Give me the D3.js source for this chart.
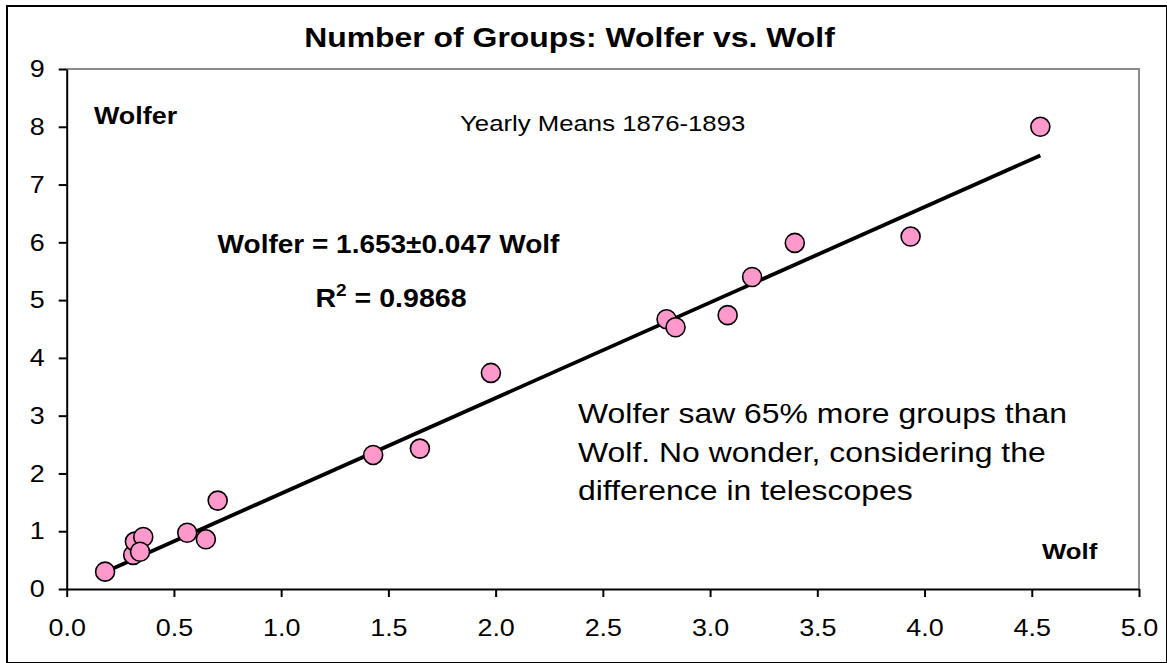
<!DOCTYPE html>
<html>
<head>
<meta charset="utf-8">
<script src="https://cdn.jsdelivr.net/npm/d3@7"></script>
<style>
  html, body { margin: 0; padding: 0; background: #fff; }
  svg { display: block; }
  text { font-family: "Liberation Sans", Arial, sans-serif; fill: #000; }
</style>
</head>
<body>
<script>
// Yearly means 1876-1893
const wolf = [0.179, 0.310, 0.318, 0.357, 0.342, 0.562, 0.649, 0.704, 1.429, 1.647, 1.978, 2.797, 2.839, 3.082, 3.196, 3.395, 3.935, 4.54]
const wolfer = [0.30, 0.59, 0.82, 0.90, 0.645, 0.974, 0.86, 1.53, 2.32, 2.43, 3.74, 4.67, 4.53, 4.74, 5.40, 5.99, 6.10, 8.00]
const slope = 1.653

const xTicks = [0, 0.5, 1, 1.5, 2, 2.5, 3, 3.5, 4, 4.5, 5]
const yTicks = [0, 1, 2, 3, 4, 5, 6, 7, 8, 9]

const annotation = [
  'Wolfer saw 65% more groups than',
  'Wolf. No wonder, considering the',
  'difference in telescopes'
]

// ===================================================================

const WIDTH = 1167
const HEIGHT = 663
const STRETCH = 1.12 // the original text is a bit wider than it is tall

const PLOT = { left: 66.7, top: 69, right: 1139, bottom: 589 }

const svg = d3.select('body').append('svg')
  .attr('width', WIDTH)
  .attr('height', HEIGHT)

svg.append('rect')
  .attr('x', 7).attr('y', 6)
  .attr('width', WIDTH - 7).attr('height', HEIGHT - 6)
  .attr('fill', '#fff')
  .attr('stroke', '#000')
  .attr('stroke-width', 2)

const x = d3.scaleLinear().domain([0, 5]).range([PLOT.left, PLOT.right])
const y = d3.scaleLinear().domain([0, 9]).range([PLOT.bottom, PLOT.top])

// gray frame on top and right
svg.append('path')
  .attr('d', `M${PLOT.left},${PLOT.top}H${PLOT.right}V${PLOT.bottom}`)
  .attr('fill', 'none')
  .attr('stroke', '#8c8c8c')
  .attr('stroke-width', 2)

const xAxis = svg.append('g')
  .attr('transform', `translate(0,${PLOT.bottom})`)
  .call(d3.axisBottom(x).tickValues(xTicks).tickFormat(d3.format('.1f')).tickSize(8).tickSizeOuter(0).tickPadding(22))
xAxis.selectAll('text')
  .attr('font-size', 24)
  .attr('transform', `scale(${STRETCH},1)`)

const yAxis = svg.append('g')
  .attr('transform', `translate(${PLOT.left},0)`)
  .call(d3.axisLeft(y).tickValues(yTicks).tickFormat(d3.format('d')).tickSize(8).tickSizeOuter(0))
yAxis.selectAll('text')
  .attr('font-size', 24)
  .attr('x', -22 / STRETCH)
  .attr('transform', `scale(${STRETCH},1)`)

svg.selectAll('.domain').attr('stroke', '#000').attr('stroke-width', 2)
svg.selectAll('.tick line').attr('stroke', '#000').attr('stroke-width', 2)

// fitted line through the origin, over the range of the data
const xExt = d3.extent(wolf)
svg.append('path')
  .datum(xExt)
  .attr('d', d3.line().x(d => x(d)).y(d => y(slope * d)))
  .attr('stroke', '#000')
  .attr('stroke-width', 3.8)
  .attr('fill', 'none')

svg.append('g').selectAll('circle')
  .data(d3.zip(wolf, wolfer))
  .join('circle')
    .attr('cx', d => x(d[0]))
    .attr('cy', d => y(d[1]))
    .attr('r', 9.5)
    .attr('fill', '#ff99cc')
    .attr('stroke', '#000')
    .attr('stroke-width', 1.6)

// ===================================================================

const label = (txt, px, py, size, weight, anchor) => svg.append('text')
  .attr('transform', `translate(${px},${py}) scale(${STRETCH},1)`)
  .attr('text-anchor', anchor || 'start')
  .attr('font-size', size)
  .attr('font-weight', weight || 'normal')
  .text(txt)

label('Number of Groups: Wolfer vs. Wolf', 569.5, 47, 28.5, 'bold', 'middle')
label('Wolfer', 94, 124, 24, 'bold')
label('Yearly Means 1876-1893', 460, 131, 23)
label('Wolfer = 1.653\u00b10.047 Wolf', 388.5, 253, 25, 'bold', 'middle')

const r2 = label('R', 391, 307, 25.5, 'bold', 'middle')
r2.append('tspan').attr('font-size', 17).attr('dy', -11).text('2')
r2.append('tspan').attr('dy', 11).text(' = 0.9868')

annotation.forEach((line, i) => label(line, 578, 423 + i * 38.5, 28.5))

label('Wolf', 1042, 559, 23, 'bold')
</script>
</body>
</html>
